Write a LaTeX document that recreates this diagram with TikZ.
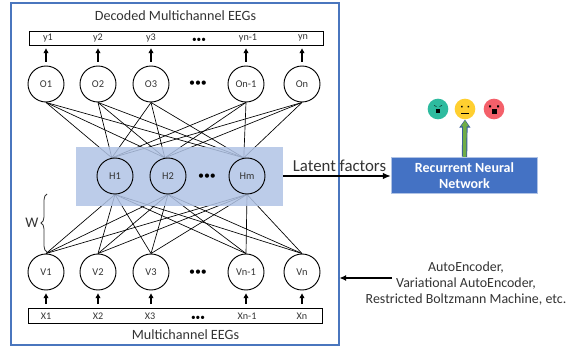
\documentclass[tikz,border=0pt]{standalone}
\usepackage{fontspec}
\setmainfont{Carlito}
\usetikzlibrary{arrows.meta,decorations.pathreplacing}
\definecolor{framecol}{HTML}{4A76BE}
\definecolor{hiddencol}{HTML}{B0C3E5}
\definecolor{rnncol}{HTML}{4472C4}
\definecolor{textcol}{HTML}{333333}

\begin{document}
\begin{tikzpicture}[x=0.75pt,y=-0.75pt,
  unit/.style={draw,circle,minimum size=27pt,inner sep=0pt,line width=0.7pt,font=\fontsize{7.8}{9}\selectfont,text=textcol},
  label/.style={inner sep=0pt,font=\fontsize{7.6}{9}\selectfont,text=textcol},
  dots/.style={inner sep=0pt,font=\fontsize{7}{8}\selectfont},
  title/.style={inner sep=0pt,font=\fontsize{10.6}{12}\selectfont,text=textcol},
  weight/.style={line width=0.5pt},
  feed/.style={-{Triangle[length=3.5pt,width=3.5pt]},line width=1.1pt,shorten >=2.2pt,shorten <=3pt},
  face/.style={circle,minimum size=15.5pt,inner sep=0pt}]

\useasboundingbox (0,0) rectangle (567,349);

% frame
\draw[framecol,line width=1pt] (11,3) rectangle (339,345);

% output layer
\node[title] (decoded) at (175.5,16) {Decoded Multichannel EEGs};
\node[draw,line width=0.7pt,minimum width=220.5pt,minimum height=10.5pt,inner sep=0pt] (ybox) at (176,38) {};
\node[label] (y1) at (48,38) {y1};
\node[label] (y2) at (98,38) {y2};
\node[label] (y3) at (151,38) {y3};
\node[dots] (ydots) at (199,40) {•••};
\node[label] (yn1) at (248,38) {yn-1};
\node[label] (yn) at (303,38) {yn};

\node[unit] (O1) at (46,84) {O1};
\node[unit,node distance=39pt] (O2) [right of=O1] {O2};
\node[unit,node distance=39.75pt] (O3) [right of=O2] {O3};
\node[unit,node distance=71.25pt] (O4) [right of=O3] {On-1};
\node[unit,node distance=42pt] (O5) [right of=O4] {On};
\node[dots,font=\fontsize{9}{11}\selectfont] (odots) at (198,84) {•••};

% visible layer
\node[unit,node distance=141pt] (V1) [below of=O1] {V1};
\node[unit,node distance=141pt] (V2) [below of=O2] {V2};
\node[unit,node distance=141pt] (V3) [below of=O3] {V3};
\node[unit,node distance=141pt] (V4) [below of=O4] {Vn-1};
\node[unit,node distance=141pt] (V5) [below of=O5] {Vn};
\node[dots,font=\fontsize{9}{11}\selectfont] (vdots) at (198,273) {•••};

\node[draw,line width=0.7pt,minimum width=220.5pt,minimum height=11pt,inner sep=0pt] (xbox) at (175,316) {};
\node[label] (x1) at (46,316) {X1};
\node[label] (x2) at (98,316) {X2};
\node[label] (x3) at (150,316) {X3};
\node[dots] (xdots) at (198,318) {•••};
\node[label] (xn1) at (247,316) {Xn-1};
\node[label] (xn) at (302,316) {Xn};
\node[title] (multi) at (185.5,335) {Multichannel EEGs};

% hidden layer, the weights are seen through it
\coordinate (H1pos) at (115,176);
\coordinate (H2pos) at (168,176);
\coordinate (Hmpos) at (247,176);
\node[unit,draw=none,fill=none] (H1) at (H1pos) {};
\node[unit,draw=none,fill=none] (H2) at (H2pos) {};
\node[unit,draw=none,fill=none] (Hm) at (Hmpos) {};

% weights
\path[draw,weight] (O1.south) edge (H1.100) edge (H2.100) edge (Hm.100);
\path[draw,weight] (O2.south) edge (H1.100) edge (H2.100) edge (Hm.100);
\path[draw,weight] (O3.south) edge (H1.100) edge (H2.100) edge (Hm.100);
\path[draw,weight] (O4.south) edge (H1.100) edge (H2.100) edge (Hm.100);
\path[draw,weight] (O5.south) edge (H1.100) edge (H2.100) edge (Hm.100);
\path[draw,weight] (V1.north) edge (H1.south) edge (H2.south) edge (Hm.south);
\path[draw,weight] (V2.north) edge (H1.south) edge (H2.south) edge (Hm.south);
\path[draw,weight] (V3.north) edge (H1.south) edge (H2.south) edge (Hm.south);
\path[draw,weight] (V4.north) edge (H1.south) edge (H2.south) edge (Hm.south);
\path[draw,weight] (V5.north) edge (H1.south) edge (H2.south) edge (Hm.south);

\node[fill=hiddencol,fill opacity=0.85,minimum width=155.25pt,minimum height=44.25pt,inner sep=0pt] (hbox) at (179.5,176.5) {};
\node[unit] at (H1pos) {H1};
\node[unit] at (H2pos) {H2};
\node[unit] at (Hmpos) {Hm};
\node[dots,font=\fontsize{9}{11}\selectfont] (hdots) at (207,177) {•••};

% arrows
\draw[feed] (O1) -- (O1 |- ybox.south);
\draw[feed] (O2) -- (O2 |- ybox.south);
\draw[feed] (O3) -- (O3 |- ybox.south);
\draw[feed] (O4) -- (O4 |- ybox.south);
\draw[feed] (O5) -- (O5 |- ybox.south);
\draw[feed] (V1 |- xbox.north) -- (V1);
\draw[feed] (V2 |- xbox.north) -- (V2);
\draw[feed] (V3 |- xbox.north) -- (V3);
\draw[feed] (V4 |- xbox.north) -- (V4);
\draw[feed] (V5 |- xbox.north) -- (V5);

% brace
\coordinate (braceA) at (47,252);
\coordinate (braceB) at (47,194);
\draw[textcol,line width=0.6pt,decorate,decoration={brace,amplitude=4.5pt}] (braceA) -- (braceB);
\node[inner sep=0pt,font=\fontsize{11}{13}\selectfont,text=textcol] (W) at (32,223) {W};

% right part
\node[fill=rnncol,draw=hiddencol,line width=0.6pt,minimum width=110pt,minimum height=27.5pt,inner sep=0pt,align=center,text=white,font=\fontsize{10.5}{12.5}\selectfont\bfseries] (rnn) at (464.5,175.5) {Recurrent Neural\\Network};
\node[inner sep=0pt,font=\fontsize{12.6}{14}\selectfont,text=textcol] (latent) at (339.5,166) {Latent factors};
\coordinate (hout) at (hbox.east |- 0,176);
\draw[-{Latex[length=6pt,width=5pt]},line width=1pt] (hout) -- (hout -| rnn.west);

\node[face,fill={rgb,255:red,46;green,187;blue,159}] (happy) at (438,109) {};
\node[face,fill={rgb,255:red,255;green,207;blue,48}] (neutral) at (465,109) {};
\node[face,fill={rgb,255:red,244;green,96;blue,106}] (angry) at (494,109) {};

\draw[rnncol!80!black,-{Triangle[length=6pt,width=8pt]},line width=4pt] (rnn.north) -- (neutral.south);
\draw[-{Triangle[length=4.5pt,width=5.5pt]},line width=2.6pt,color={rgb,255:red,112;green,173;blue,71},shorten >=0.6pt] (rnn.north) -- (neutral.south);

% faces
\draw[line width=0.3pt] (434,105.5) -- (436.5,106.5) (442,105.5) -- (439.5,106.5);
\fill (436,109) rectangle (440,113.5);
\fill (461,106) rectangle (462.5,107.5) (467.5,106) rectangle (469,107.5);
\draw[line width=0.3pt] (461,113) -- (469,113);
\fill (489,105.5) rectangle (491,107.5) (497,105.5) rectangle (499,107.5);
\fill (491.5,109) rectangle (496.5,114);

% methods
\node[align=center,inner sep=0pt,font=\fontsize{10.45}{12.2}\selectfont,text=textcol] (methods) at (466,283.5) {AutoEncoder,\\Variational AutoEncoder,\\Restricted Boltzmann Machine, etc.};
\coordinate (methodsend) at (392,278);
\coordinate (frameend) at (339.5,278);
\draw[-{Latex[length=5pt,width=4.5pt]},line width=0.8pt] (methodsend) -- (frameend);

\end{tikzpicture}
\end{document}
